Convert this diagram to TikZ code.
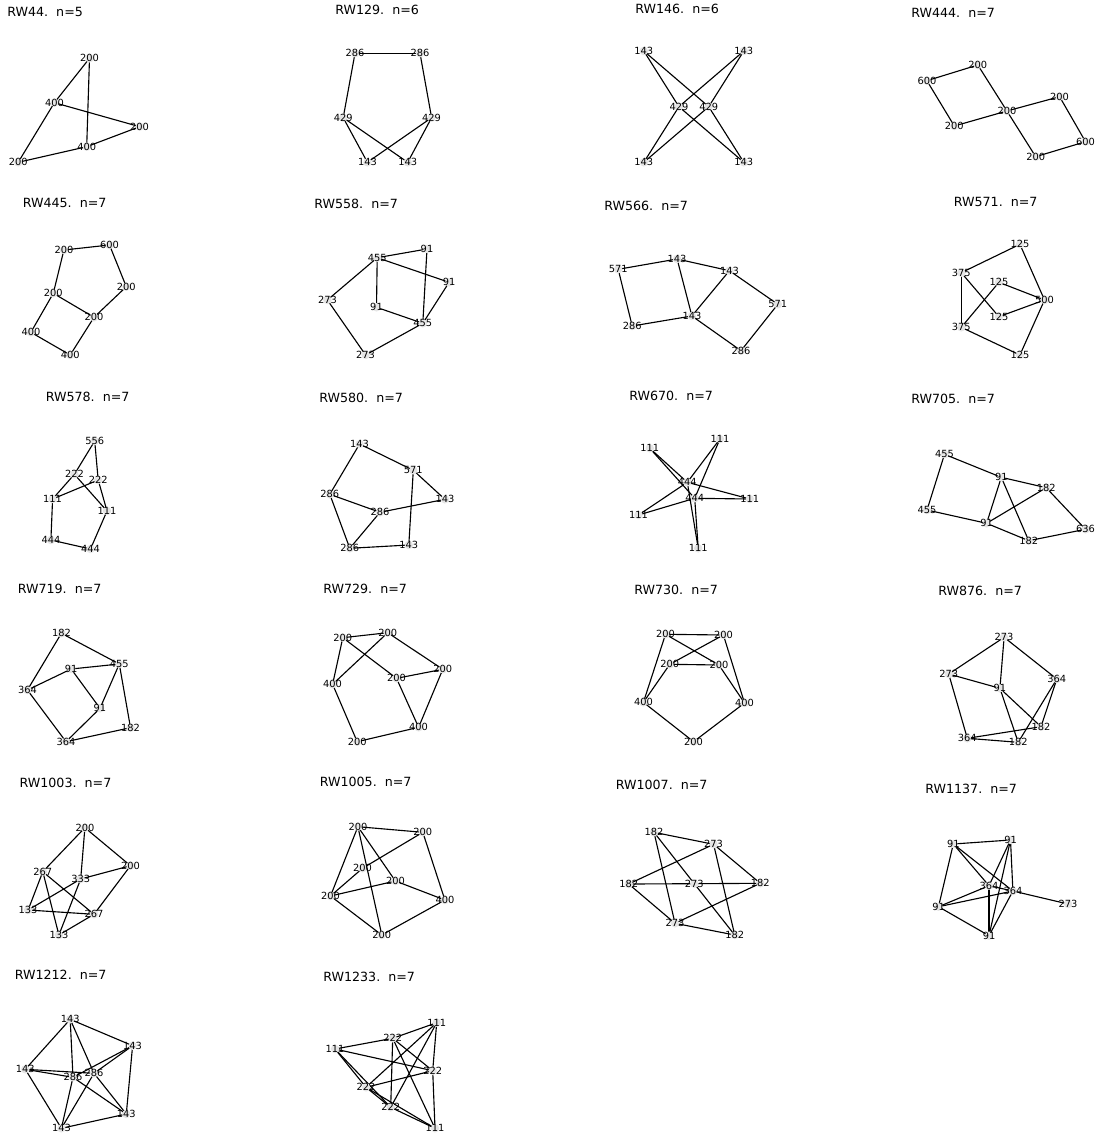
\documentclass[tikz,border=0pt]{standalone}
\usepackage{fontspec}
\setmainfont{DejaVu Sans}
\pgfdeclarelayer{links}
\pgfsetlayers{links,main}
\tikzset{
  vtx/.style={circle, fill=black!10, inner sep=0pt, minimum size=6pt,
    label={[vlabel]center:#1}},
  vlabel/.style={inner sep=0pt, font=\fontsize{7}{8}\selectfont},
  ttl/.style={anchor=west, inner sep=0pt, font=\fontsize{9}{11}\selectfont},
  link/.style={line width=0.8pt, draw=black},
}

\begin{document}
\begin{tikzpicture}[x=0.025cm, y=-0.025cm]
  \useasboundingbox (0,0) rectangle (1096,1136);

  % titles
  \foreach \x/\y/\id/\n in {7/12/44/5, 335/10/129/6, 635/8.5/146/6, 911/13.3/444/7,
      22.5/203.3/445/7, 314/204/558/7, 604/206/566/7, 953.5/202.3/571/7,
      45.5/396.7/578/7, 319/398.3/580/7, 629/396/670/7, 911/399/705/7,
      17.5/589/719/7, 323/589/729/7, 634/590/730/7, 938/591/876/7,
      19.3/783.3/1003/7, 319.5/782.3/1005/7, 615.5/785/1007/7, 925/789.3/1137/7,
      14.5/975/1212/7, 323/976.7/1233/7}
    \node[ttl] (t\id) at (\x,\y) {RW\id.~~n=\n};

  % RW44
  \node[vtx=200] (rw44a) at (89.5,58.3) {};
  \node[vtx=400] (rw44b) at (54.4,102.7) {};
  \node[vtx=200] (rw44c) at (139.6,126.7) {};
  \node[vtx=400] (rw44d) at (86.7,146.7) {};
  \node[vtx=200] (rw44e) at (18.2,162.3) {};
  % RW129
  \node[vtx=286] (rw129a) at (355,53.3) {};
  \node[vtx=286] (rw129b) at (420,53.3) {};
  \node[vtx=429] (rw129c) at (343.2,117.7) {};
  \node[vtx=429] (rw129d) at (431.6,117.7) {};
  \node[vtx=143] (rw129e) at (367.4,162.3) {};
  \node[vtx=143] (rw129f) at (407.7,162.3) {};
  % RW146
  \node[vtx=143] (rw146a) at (643.8,51) {};
  \node[vtx=143] (rw146b) at (743.8,51) {};
  \node[vtx=429] (rw146c) at (678.9,106.7) {};
  \node[vtx=429] (rw146d) at (708.7,106.7) {};
  \node[vtx=143] (rw146e) at (643.8,162.3) {};
  \node[vtx=143] (rw146f) at (743.8,162.3) {};
  % RW444
  \node[vtx=600] (rw444a) at (926.9,80.7) {};
  \node[vtx=200] (rw444b) at (977.8,65) {};
  \node[vtx=200] (rw444c) at (1006.9,111) {};
  \node[vtx=200] (rw444d) at (1059.6,96.7) {};
  \node[vtx=200] (rw444e) at (954.3,126) {};
  \node[vtx=600] (rw444f) at (1085.5,141.7) {};
  \node[vtx=200] (rw444g) at (1035.7,156.7) {};
  % RW445
  \node[vtx=200] (rw445a) at (63.9,250) {};
  \node[vtx=600] (rw445b) at (109.5,245) {};
  \node[vtx=200] (rw445c) at (126.3,286.7) {};
  \node[vtx=200] (rw445d) at (53.3,293.3) {};
  \node[vtx=200] (rw445e) at (94,317.3) {};
  \node[vtx=400] (rw445f) at (30.9,332.3) {};
  \node[vtx=400] (rw445g) at (70.2,355) {};
  % RW558
  \node[vtx=455] (rw558a) at (377.2,257.7) {};
  \node[vtx=91] (rw558b) at (427,249) {};
  \node[vtx=91] (rw558c) at (449.1,282.3) {};
  \node[vtx=273] (rw558d) at (327.4,300) {};
  \node[vtx=91] (rw558e) at (376.5,307.3) {};
  \node[vtx=455] (rw558f) at (422.8,323.3) {};
  \node[vtx=273] (rw558g) at (365.6,355) {};
  % RW566
  \node[vtx=571] (rw566a) at (618.2,269.3) {};
  \node[vtx=143] (rw566b) at (677.1,259) {};
  \node[vtx=143] (rw566c) at (729.4,270.7) {};
  \node[vtx=571] (rw566d) at (777.8,304.3) {};
  \node[vtx=143] (rw566e) at (691.9,316) {};
  \node[vtx=286] (rw566f) at (632.2,326) {};
  \node[vtx=286] (rw566g) at (741,350.7) {};
  % RW571
  \node[vtx=125] (rw571a) at (1019.9,244.3) {};
  \node[vtx=375] (rw571b) at (961.3,272.7) {};
  \node[vtx=125] (rw571c) at (998.9,282.3) {};
  \node[vtx=500] (rw571d) at (1044.5,300) {};
  \node[vtx=125] (rw571e) at (998.9,316.7) {};
  \node[vtx=375] (rw571f) at (961.3,327.3) {};
  \node[vtx=125] (rw571g) at (1019.9,355) {};
  % RW578
  \node[vtx=556] (rw578a) at (94.7,441) {};
  \node[vtx=222] (rw578b) at (74.4,474.3) {};
  \node[vtx=222] (rw578c) at (98.2,480) {};
  \node[vtx=111] (rw578d) at (52.6,499) {};
  \node[vtx=111] (rw578e) at (107,511) {};
  \node[vtx=444] (rw578f) at (50.9,540) {};
  \node[vtx=444] (rw578g) at (90.5,549) {};
  % RW580
  \node[vtx=143] (rw580a) at (359.6,444) {};
  \node[vtx=571] (rw580b) at (413.3,470.3) {};
  \node[vtx=286] (rw580c) at (329.8,494.3) {};
  \node[vtx=143] (rw580d) at (444.9,499.3) {};
  \node[vtx=286] (rw580e) at (380,512.3) {};
  \node[vtx=286] (rw580f) at (349.8,548.3) {};
  \node[vtx=143] (rw580g) at (408.8,545) {};
  % RW670
  \node[vtx=111] (rw670a) at (649.8,448.3) {};
  \node[vtx=111] (rw670b) at (719.9,439) {};
  \node[vtx=444] (rw670c) at (687.3,482.3) {};
  \node[vtx=444] (rw670d) at (694.7,498.3) {};
  \node[vtx=111] (rw670e) at (749.8,499) {};
  \node[vtx=111] (rw670f) at (638.5,515) {};
  \node[vtx=111] (rw670g) at (698.2,548.3) {};
  % RW705
  \node[vtx=455] (rw705a) at (944.5,454.3) {};
  \node[vtx=91] (rw705b) at (1001.3,477.3) {};
  \node[vtx=182] (rw705c) at (1046.2,487.7) {};
  \node[vtx=455] (rw705d) at (927,510) {};
  \node[vtx=91] (rw705e) at (986.6,523.3) {};
  \node[vtx=182] (rw705f) at (1028.7,540.7) {};
  \node[vtx=636] (rw705g) at (1085.5,529.3) {};
  % RW719
  \node[vtx=182] (rw719a) at (61.4,633.3) {};
  \node[vtx=455] (rw719b) at (119.3,664) {};
  \node[vtx=91] (rw719c) at (71.2,669) {};
  \node[vtx=364] (rw719d) at (27.4,690) {};
  \node[vtx=91] (rw719e) at (100,708.3) {};
  \node[vtx=182] (rw719f) at (130.5,727.7) {};
  \node[vtx=364] (rw719g) at (66,741.7) {};
  % RW729
  \node[vtx=200] (rw729a) at (342.8,637.7) {};
  \node[vtx=200] (rw729b) at (387.7,632.7) {};
  \node[vtx=200] (rw729c) at (442.8,669.3) {};
  \node[vtx=400] (rw729d) at (332.6,684.3) {};
  \node[vtx=200] (rw729e) at (396.5,678.3) {};
  \node[vtx=400] (rw729f) at (418.6,727.3) {};
  \node[vtx=200] (rw729g) at (357.2,741.7) {};
  % RW730
  \node[vtx=200] (rw730a) at (665.5,634.3) {};
  \node[vtx=200] (rw730b) at (723.4,635) {};
  \node[vtx=200] (rw730c) at (669.8,664.3) {};
  \node[vtx=200] (rw730d) at (718.9,665) {};
  \node[vtx=400] (rw730e) at (643.4,702.3) {};
  \node[vtx=400] (rw730f) at (744.5,703) {};
  \node[vtx=200] (rw730g) at (693.6,741.7) {};
  % RW876
  \node[vtx=273] (rw876a) at (1004.1,637.3) {};
  \node[vtx=273] (rw876b) at (948.7,674) {};
  \node[vtx=91] (rw876c) at (999.9,688.3) {};
  \node[vtx=364] (rw876d) at (1056.8,679) {};
  \node[vtx=182] (rw876e) at (1041,726.7) {};
  \node[vtx=364] (rw876f) at (967.3,738.3) {};
  \node[vtx=182] (rw876g) at (1018.2,742.3) {};
  % RW1003
  \node[vtx=200] (rw1003a) at (84.9,827.7) {};
  \node[vtx=200] (rw1003b) at (130.5,865.7) {};
  \node[vtx=267] (rw1003c) at (42.8,871.7) {};
  \node[vtx=333] (rw1003d) at (80.7,879) {};
  \node[vtx=133] (rw1003e) at (28.1,910) {};
  \node[vtx=267] (rw1003f) at (94,914.3) {};
  \node[vtx=133] (rw1003g) at (58.9,935) {};
  % RW1005
  \node[vtx=200] (rw1005a) at (357.9,826.7) {};
  \node[vtx=200] (rw1005b) at (422.8,832.3) {};
  \node[vtx=200] (rw1005c) at (362.5,868.3) {};
  \node[vtx=200] (rw1005d) at (395.4,881) {};
  \node[vtx=200] (rw1005e) at (330.5,896) {};
  \node[vtx=400] (rw1005f) at (444.9,900) {};
  \node[vtx=200] (rw1005g) at (381.8,935) {};
  % RW1007
  \node[vtx=182] (rw1007a) at (654,832.3) {};
  \node[vtx=273] (rw1007b) at (713.6,844.3) {};
  \node[vtx=182] (rw1007c) at (628.7,884) {};
  \node[vtx=273] (rw1007d) at (694.3,883.7) {};
  \node[vtx=182] (rw1007e) at (760.3,883.3) {};
  \node[vtx=273] (rw1007f) at (675,923.3) {};
  \node[vtx=182] (rw1007g) at (734.7,935) {};
  % RW1137
  \node[vtx=91] (rw1137a) at (953.3,844) {};
  \node[vtx=91] (rw1137b) at (1010.5,840) {};
  \node[vtx=364] (rw1137c) at (989,885.7) {};
  \node[vtx=364] (rw1137d) at (1012.9,891) {};
  \node[vtx=91] (rw1137e) at (938.5,906.7) {};
  \node[vtx=273] (rw1137f) at (1068,904) {};
  \node[vtx=91] (rw1137g) at (989,935.7) {};
  % RW1212
  \node[vtx=143] (rw1212a) at (70.2,1019.3) {};
  \node[vtx=143] (rw1212b) at (132.6,1045.7) {};
  \node[vtx=143] (rw1212c) at (25.3,1069.3) {};
  \node[vtx=286] (rw1212d) at (73,1077.3) {};
  \node[vtx=286] (rw1212e) at (94,1073.3) {};
  \node[vtx=143] (rw1212f) at (126.3,1114) {};
  \node[vtx=143] (rw1212g) at (61.4,1128.3) {};
  % RW1233
  \node[vtx=111] (rw1233a) at (436.7,1022.7) {};
  \node[vtx=222] (rw1233b) at (392.7,1038.3) {};
  \node[vtx=111] (rw1233c) at (335,1049) {};
  \node[vtx=222] (rw1233d) at (432.7,1070.7) {};
  \node[vtx=222] (rw1233e) at (366,1087.3) {};
  \node[vtx=222] (rw1233f) at (390.7,1107.3) {};
  \node[vtx=111] (rw1233g) at (435,1128.3) {};

  % edges, under the labels
  \begin{pgfonlayer}{links}
    \fill[white] (0,0) rectangle (1096,1136);
    \foreach \g/\u/\v in {44/a/b, 44/a/d, 44/b/c, 44/b/e, 44/c/d, 44/d/e,
        129/a/b, 129/a/c, 129/b/d, 129/c/e, 129/c/f, 129/d/e, 129/d/f,
        146/a/c, 146/a/d, 146/b/c, 146/b/d, 146/e/c, 146/e/d, 146/f/c, 146/f/d,
        444/a/b, 444/a/e, 444/b/c, 444/e/c, 444/c/d, 444/c/g, 444/d/f, 444/g/f,
        445/a/b, 445/b/c, 445/a/d, 445/d/e, 445/c/e, 445/d/f, 445/f/g, 445/e/g,
        558/a/b, 558/a/c, 558/a/d, 558/a/e, 558/b/f, 558/c/f, 558/e/f, 558/f/g, 558/d/g,
        566/a/b, 566/b/c, 566/b/e, 566/c/e, 566/c/d, 566/a/f, 566/f/e, 566/e/g, 566/d/g,
        571/a/b, 571/a/d, 571/b/f, 571/b/e, 571/c/d, 571/c/f, 571/e/d, 571/f/g, 571/g/d}
      \draw[link] (rw\g\u.center) -- (rw\g\v.center);
    \foreach \g/\u/\v in {578/a/b, 578/a/c, 578/b/d, 578/b/e, 578/c/d, 578/c/e, 578/d/f, 578/f/g, 578/e/g,
        580/a/b, 580/a/c, 580/b/d, 580/b/g, 580/c/e, 580/c/f, 580/e/d, 580/e/f, 580/f/g,
        670/a/c, 670/a/d, 670/b/c, 670/b/d, 670/e/c, 670/e/d, 670/f/c, 670/f/d, 670/g/c, 670/g/d,
        705/a/b, 705/a/d, 705/b/c, 705/b/e, 705/b/f, 705/c/e, 705/c/g, 705/d/e, 705/e/f, 705/f/g,
        719/a/b, 719/a/d, 719/c/b, 719/c/d, 719/c/e, 719/b/e, 719/b/f, 719/d/g, 719/e/g, 719/g/f,
        729/a/b, 729/a/d, 729/a/e, 729/b/d, 729/b/c, 729/e/c, 729/e/f, 729/c/f, 729/d/g, 729/g/f,
        730/a/b, 730/a/d, 730/a/e, 730/b/c, 730/b/f, 730/c/d, 730/c/e, 730/d/f, 730/e/g, 730/f/g,
        876/a/b, 876/a/c, 876/a/d, 876/b/c, 876/b/f, 876/c/e, 876/c/g, 876/d/e, 876/d/g, 876/f/e, 876/f/g}
      \draw[link] (rw\g\u.center) -- (rw\g\v.center);
    \foreach \g/\u/\v in {1003/a/c, 1003/a/d, 1003/a/b, 1003/b/d, 1003/b/f, 1003/c/e, 1003/c/g,
        1003/c/f, 1003/d/e, 1003/d/g, 1003/e/f, 1003/g/f,
        1005/a/b, 1005/a/e, 1005/a/d, 1005/a/g, 1005/b/c, 1005/b/f, 1005/c/e, 1005/d/e,
        1005/d/f, 1005/e/g, 1005/f/g,
        1007/a/b, 1007/a/d, 1007/a/f, 1007/c/b, 1007/c/d, 1007/c/f, 1007/e/b, 1007/e/d,
        1007/e/f, 1007/g/b, 1007/g/d, 1007/g/f,
        1137/a/b, 1137/a/e, 1137/b/g, 1137/e/g, 1137/a/c, 1137/a/d, 1137/b/c, 1137/b/d,
        1137/e/c, 1137/e/d, 1137/g/c, 1137/g/d, 1137/c/d, 1137/d/f,
        1212/a/b, 1212/a/c, 1212/b/f, 1212/c/g, 1212/f/g, 1212/d/a, 1212/d/b, 1212/d/c,
        1212/d/f, 1212/d/g, 1212/e/a, 1212/e/b, 1212/e/c, 1212/e/f, 1212/e/g,
        1233/a/b, 1233/a/d, 1233/a/e, 1233/a/f, 1233/c/b, 1233/c/d, 1233/c/e, 1233/c/f,
        1233/g/b, 1233/g/d, 1233/g/e, 1233/g/f, 1233/b/d, 1233/d/e, 1233/e/f, 1233/f/b}
      \draw[link] (rw\g\u.center) -- (rw\g\v.center);
  \end{pgfonlayer}
\end{tikzpicture}
\end{document}
